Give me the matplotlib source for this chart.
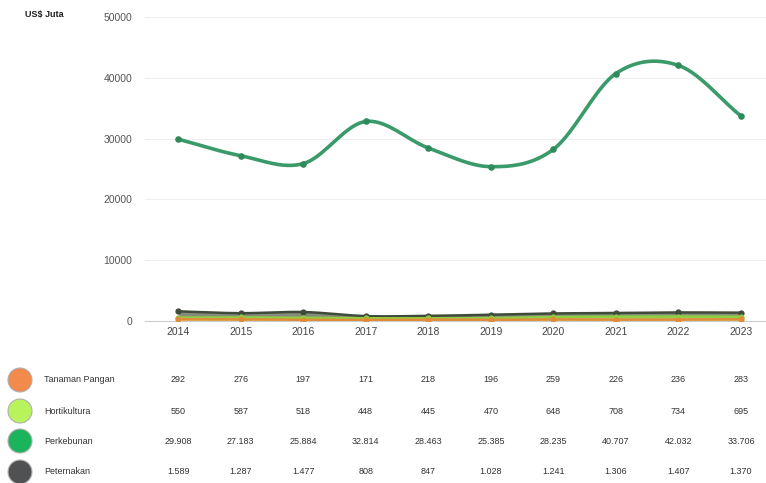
import numpy as np
import matplotlib.pyplot as plt
from matplotlib.patches import Ellipse
from matplotlib.transforms import blended_transform_factory

years = [2014, 2015, 2016, 2017, 2018, 2019, 2020, 2021, 2022, 2023]

tanaman_pangan = [292, 276, 197, 171, 218, 196, 259, 226, 236, 283]
hortikultura = [550, 587, 518, 448, 445, 470, 648, 708, 734, 695]
perkebunan = [29908, 27183, 25884, 32814, 28463, 25385, 28235, 40707, 42032, 33706]
peternakan = [1589, 1287, 1477, 808, 847, 1028, 1241, 1306, 1407, 1370]

series_names = ['Tanaman Pangan', 'Hortikultura', 'Perkebunan', 'Peternakan']
table_labels = [
    ['292', '276', '197', '171', '218', '196', '259', '226', '236', '283'],
    ['550', '587', '518', '448', '445', '470', '648', '708', '734', '695'],
    ['29.908', '27.183', '25.884', '32.814', '28.463', '25.385', '28.235', '40.707', '42.032', '33.706'],
    ['1.589', '1.287', '1.477', '808', '847', '1.028', '1.241', '1.306', '1.407', '1.370'],
]
dot_colors = ['#f28a4c', '#b8f25c', '#1bb35c', '#4f5152']


def smooth(xs, ys, n=20):
    # catmull-rom through every point
    xs = np.asarray(xs, float)
    ys = np.asarray(ys, float)
    px = np.concatenate([[2 * xs[0] - xs[1]], xs, [2 * xs[-1] - xs[-2]]])
    py = np.concatenate([[2 * ys[0] - ys[1]], ys, [2 * ys[-1] - ys[-2]]])
    out_x, out_y = [], []
    t = np.linspace(0, 1, n, endpoint=False)
    for i in range(1, len(px) - 2):
        for arr, out in ((px, out_x), (py, out_y)):
            p0, p1, p2, p3 = arr[i - 1], arr[i], arr[i + 1], arr[i + 2]
            out.extend(0.5 * (2 * p1 + (-p0 + p2) * t
                              + (2 * p0 - 5 * p1 + 4 * p2 - p3) * t ** 2
                              + (-p0 + 3 * p1 - 3 * p2 + p3) * t ** 3))
    out_x.append(xs[-1])
    out_y.append(ys[-1])
    return np.array(out_x), np.array(out_y)


plt.rcParams['font.family'] = ['Liberation Sans', 'DejaVu Sans']

fig = plt.figure(figsize=(7.66, 4.83), dpi=100)
ax = fig.add_axes([145 / 766, (483 - 321) / 483, 621 / 766, 304 / 483])

ax.set_xlim(2013.47, 2023.40)
ax.set_ylim(0, 50000)

# small series as filled areas
for vals, line_c, fill_c, a in [
    (peternakan, '#3f4a3a', '#687058', 0.8),
    (hortikultura, '#8fd040', '#c6e07a', 0.75),
    (tanaman_pangan, '#e08a3a', '#e8c860', 0.75),
]:
    sx, sy = smooth(years, vals)
    ax.fill_between(sx, 0, sy, color=fill_c, alpha=a, lw=0, zorder=2)
    ax.plot(sx, sy, color=line_c, lw=1.8, zorder=3)
    ax.scatter(years, vals, s=12, color=line_c, zorder=4)

sx, sy = smooth(years, perkebunan)
ax.plot(sx, sy, color='#3a9a6a', lw=2.6, zorder=5)
ax.scatter(years, perkebunan, s=14, color='#2f8a5c', zorder=6)

ax.set_xticks(years)
ax.set_xticklabels([str(y) for y in years], fontsize=7.5, color='#444444')
ax.set_yticks([0, 10000, 20000, 30000, 40000, 50000])
ax.set_yticklabels(['0', '10000', '20000', '30000', '40000', '50000'],
                   fontsize=7.5, color='#555555')
ax.tick_params(length=0, pad=4)
ax.tick_params(axis='y', pad=9)
ax.grid(axis='y', color='#eeeeee', lw=0.8, zorder=0)
for side in ['top', 'right', 'left']:
    ax.spines[side].set_visible(False)
ax.spines['bottom'].set_color('#cccccc')

fig.text(25 / 766, 1 - 15 / 483, 'US$ Juta', fontsize=6.5, fontweight='bold',
         color='#222222', va='center')

# data table under the chart
trans = blended_transform_factory(ax.transData, fig.transFigure)
row_y = [380, 411, 441, 472]
for r, name in enumerate(series_names):
    yf = 1 - row_y[r] / 483
    fig.add_artist(Ellipse((20 / 766, yf), 24 / 766, 24 / 483, transform=fig.transFigure,
                           facecolor=dot_colors[r], edgecolor='#b0b0b0', lw=0.8))
    fig.text(44 / 766, yf, name, fontsize=6.5, color='#333333', va='center')
    for yr, lab in zip(years, table_labels[r]):
        fig.text(yr, yf, lab, transform=trans, fontsize=6.5, color='#333333',
                 ha='center', va='center')

fig.savefig('out.png', dpi=100)
